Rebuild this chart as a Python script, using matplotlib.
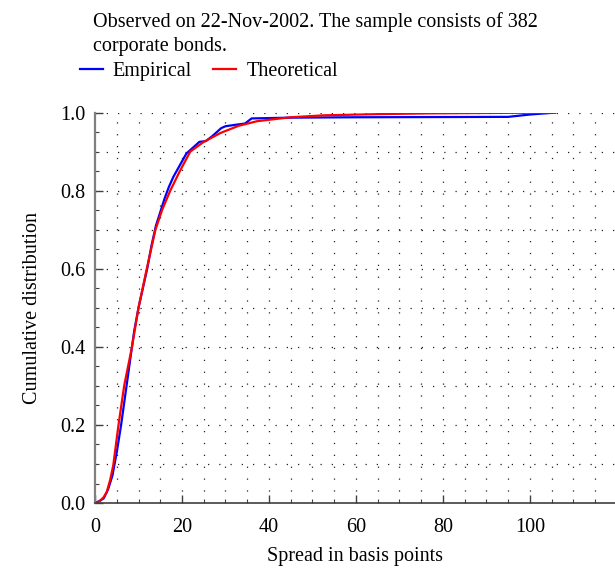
import numpy as np
import matplotlib.pyplot as plt
from matplotlib.ticker import MultipleLocator

# ------------------------------------------------------
# Datos
# ------------------------------------------------------
emp_x = [0, 1, 2, 3, 4, 5, 6, 7, 8, 9, 10, 11, 12, 13, 14, 15, 16, 17, 18,
         19, 20, 21, 22, 23, 24, 25.5, 27, 28, 29, 30, 32.5, 34.5, 36, 45,
         60, 95, 100, 105.8]
emp_y = [0, 0.005, 0.012, 0.035, 0.07, 0.13, 0.2, 0.28, 0.36, 0.44, 0.5,
         0.55, 0.6, 0.66, 0.71, 0.745, 0.78, 0.81, 0.835, 0.855, 0.875,
         0.895, 0.905, 0.915, 0.925, 0.927, 0.94, 0.95, 0.96, 0.965, 0.969,
         0.972, 0.985, 0.987, 0.988, 0.989, 0.995, 1.0]

teo_x = [0, 1, 2, 2.7, 3.5, 4.2, 5.4, 6.7, 8.5, 10, 11.9, 13.9, 15.4, 17.3,
         19.5, 21.9, 25, 28.9, 33, 37.3, 45, 52.7, 65, 77, 90, 105.8]
teo_y = [0, 0.004, 0.015, 0.028, 0.06, 0.097, 0.2, 0.3, 0.4, 0.5, 0.6, 0.7,
         0.75, 0.8, 0.85, 0.9, 0.925, 0.948, 0.966, 0.978, 0.988, 0.993,
         0.996, 0.998, 0.999, 1.0]

titulo = "Observed on 22-Nov-2002. The sample consists of 382\ncorporate bonds."

# ------------------------------------------------------
# Figura
# ------------------------------------------------------
plt.rcParams["font.family"] = ["Liberation Serif", "DejaVu Serif"]
fs = 14.5

fig = plt.figure(figsize=(6.15, 5.7), dpi=100)
ax = fig.add_axes([0.1545, 0.1175, 0.845, 0.685])

ax.plot(emp_x, emp_y, color="#0000ff", lw=1.6, label="Empirical")
ax.plot(teo_x, teo_y, color="#ff0000", lw=1.6, label="Theoretical")

ax.set_xlim(0, 119.5)
ax.set_ylim(0, 1.0)
ax.xaxis.set_major_locator(MultipleLocator(20))
ax.xaxis.set_minor_locator(MultipleLocator(5))
ax.yaxis.set_major_locator(MultipleLocator(0.2))
ax.yaxis.set_minor_locator(MultipleLocator(0.05))
ax.yaxis.set_major_formatter(lambda v, p: f"{v:.1f}")

# rejilla punteada
for yv in np.arange(0.1, 1.01, 0.1):
    ax.axhline(yv, color="#222222", lw=0.9, ls=(0, (1, 8)), zorder=0)
for xv in np.arange(5, 120, 5):
    ax.axvline(xv, color="#222222", lw=0.9, ls=(0, (1, 8.5)), zorder=0)

ax.spines["top"].set_visible(False)
ax.spines["right"].set_visible(False)
ax.spines["left"].set_color("#808080")
ax.spines["left"].set_linewidth(1.6)
ax.spines["bottom"].set_color("#404040")
ax.spines["bottom"].set_linewidth(1.2)
ax.tick_params(which="both", direction="in", colors="#404040",
               labelcolor="black", labelsize=fs)
ax.tick_params(which="major", length=6, width=1)
ax.tick_params(which="minor", length=3, width=0.8)
ax.tick_params(axis="x", pad=11)
ax.tick_params(axis="y", pad=7)

ax.set_xlabel("Spread in basis points", fontsize=fs, labelpad=7)
ax.set_ylabel("Cumulative distribution", fontsize=fs, labelpad=13)

fig.text(0.151, 0.978, titulo, fontsize=fs, va="top", ha="left",
         linespacing=1.3)
fig.legend(loc="upper left", bbox_to_anchor=(0.1, 0.923), ncol=2,
           frameon=False, handlelength=1.15, handletextpad=0.5,
           columnspacing=1.05, fontsize=fs)

fig.savefig("out.png", dpi=100)
